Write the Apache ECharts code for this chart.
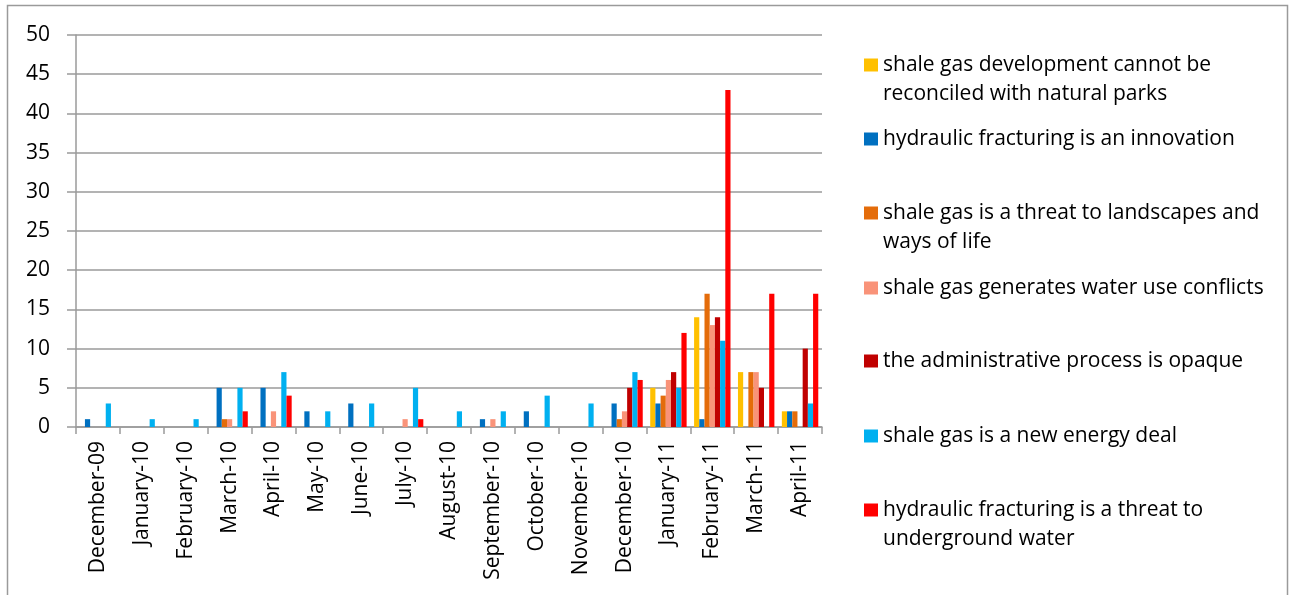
<!DOCTYPE html>
<html>
<head>
<meta charset="utf-8">
<script src="https://cdn.jsdelivr.net/npm/echarts@6/dist/echarts.min.js"></script>
<style>html,body{margin:0;padding:0;background:#fff}#c{width:1290px;height:595px}</style>
</head>
<body>
<div id="c"></div>
<script>
const categories = ['December-09','January-10','February-10','March-10','April-10','May-10','June-10','July-10','August-10','September-10','October-10','November-10','December-10','January-11','February-11','March-11','April-11'];
const seriesNames = [
  'shale gas development cannot be reconciled with natural parks',
  'hydraulic fracturing is an innovation',
  'shale gas is a threat to landscapes and ways of life',
  'shale gas generates water use conflicts',
  'the administrative process is opaque',
  'shale gas is a new energy deal',
  'hydraulic fracturing is a threat to underground water'
];
const legendLines = [
  ['shale gas development cannot be','reconciled with natural parks'],
  ['hydraulic fracturing is an innovation'],
  ['shale gas is a threat to landscapes and','ways of life'],
  ['shale gas generates water use conflicts'],
  ['the administrative process is opaque'],
  ['shale gas is a new energy deal'],
  ['hydraulic fracturing is a threat to','underground water']
];
const naturalParks   = [0,0,0,0,0,0,0,0,0,0,0,0,0,5,14,7,2];
const innovation     = [1,0,0,5,5,2,3,0,0,1,2,0,3,3,1,0,2];
const landscapes     = [0,0,0,1,0,0,0,0,0,0,0,0,1,4,17,7,2];
const waterConflicts = [0,0,0,1,2,0,0,1,0,1,0,0,2,6,13,7,0];
const opaque         = [0,0,0,0,0,0,0,0,0,0,0,0,5,7,14,5,10];
const energyDeal     = [3,1,1,5,7,2,3,5,2,2,4,3,7,5,11,0,3];
const undergroundWater=[0,0,0,2,4,0,0,1,0,0,0,0,6,12,43,17,17];
const yTicks = [0,5,10,15,20,25,30,35,40,45,50];

const seriesData = [naturalParks, innovation, landscapes, waterConflicts, opaque, energyDeal, undergroundWater];
const colors = ['#FFC000','#0070C0','#E46C0A','#F99379','#C00000','#00B0F0','#FF0000'];
const iconCenters = [65, 139, 213, 288, 361, 436, 510];
const LH = 29;
const FONT = 'Open Sans';
const FS = 21;

const chart = echarts.init(document.getElementById('c'), null, {renderer:'canvas'});
const legends = seriesNames.map((n, i) => {
  const lines = legendLines[i];
  const nLines = lines.length > 1 ? 3 : 1;
  return {
    data: [n],
    left: 864,
    top: iconCenters[i] - nLines * LH / 2,
    padding: 0,
    itemWidth: 14,
    itemHeight: 13,
    icon: 'rect',
    selectedMode: false,
    formatter: () => lines.length > 1 ? ' \n' + lines.join('\n') : lines[0],
    textStyle: {fontFamily: FONT, fontSize: FS, color: '#000', lineHeight: LH}
  };
});

chart.setOption({
  animation: false,
  color: colors,
  textStyle: {fontFamily: FONT},
  graphic: [{
    type: 'rect', silent: true,
    shape: {x: 7.5, y: 5.5, width: 1280, height: 620},
    style: {fill: 'none', stroke: '#9a9a9a', lineWidth: 1.5}
  }],
  legend: legends,
  grid: {left: 76, right: 468, top: 35, bottom: 168, containLabel: false},
  xAxis: {
    type: 'category',
    data: categories,
    axisLine: {show: true, lineStyle: {color: '#9a9a9a', width: 1.5}},
    axisTick: {show: true, alignWithLabel: false, length: 7, lineStyle: {color: '#9a9a9a', width: 1.5}},
    axisLabel: {rotate: 90, margin: 14, interval: 0, fontFamily: FONT, fontSize: FS, color: '#000'},
    splitLine: {show: false}
  },
  yAxis: {
    type: 'value',
    min: 0, max: 50, interval: 5,
    axisLine: {show: true, lineStyle: {color: '#9a9a9a', width: 1.5}},
    axisTick: {show: true, length: 9, lineStyle: {color: '#9a9a9a', width: 1.5}},
    axisLabel: {margin: 26, fontFamily: FONT, fontSize: FS, color: '#000',
      formatter: v => yTicks.includes(v) ? String(v) : ''},
    splitLine: {show: true, lineStyle: {color: '#9a9a9a', width: 1.5}}
  },
  series: seriesNames.map((n, i) => ({
    name: n,
    type: 'bar',
    data: seriesData[i],
    barGap: '0%',
    barCategoryGap: '17%',
    itemStyle: {color: colors[i]}
  }))
});
</script>
</body>
</html>
